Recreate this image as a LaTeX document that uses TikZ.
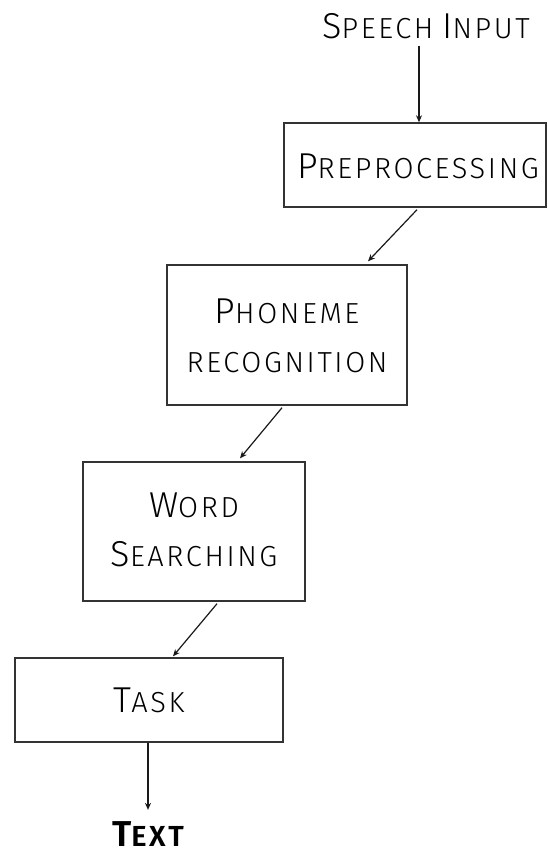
\documentclass[tikz,border=0pt]{standalone}
\usepackage{fontspec}
\setmainfont{Fira Sans Light}[BoldFont=Fira Sans SemiBold]
\usetikzlibrary{arrows.meta}
\newcommand{\fsc}[2]{{\fontsize{36}{40}\selectfont #1}{\fontsize{29}{40}\selectfont\addfontfeature{LetterSpace=9}#2}}
\begin{document}
\begin{tikzpicture}[x=1pt,y=-1pt,
  box/.style={draw=black!80,line width=1.4pt,inner sep=0pt,align=center},
  lbl/.style={inner sep=0pt,align=center},
  arr/.style={draw=black!90,line width=1.2pt,-{Stealth[length=7pt,width=6pt]}}]
\useasboundingbox (0,0) rectangle (547,848);
\node[lbl,anchor=base] (speech) at (426,39) {\fsc{S}{PEECH}\hspace{9pt}\fsc{I}{NPUT}};
\node[box,minimum width=262pt,minimum height=84pt] (pre) at (415,165) {};
\node[lbl,anchor=base] (pretext) at (418,178) {\fsc{P}{REPROCESSING}};
\node[box,minimum width=240pt,minimum height=140pt] (phon) at (287,335) {};
\node[lbl,anchor=base] (phont1) at (287,323) {\fsc{P}{HONEME}};
\node[lbl,anchor=base] (phont2) at (287,372) {\fsc{}{RECOGNITION}};
\node[box,minimum width=222pt,minimum height=139pt] (word) at (194,531.5) {};
\node[lbl,anchor=base] (wordt1) at (194,517) {\fsc{W}{ORD}};
\node[lbl,anchor=base] (wordt2) at (194,566) {\fsc{S}{EARCHING}};
\node[box,minimum width=268pt,minimum height=84pt] (task) at (149,700) {};
\node[lbl,anchor=base] (taskt) at (149,712) {\fsc{T}{ASK}};
\node[lbl,anchor=base] (text) at (148,846) {\bfseries\fsc{T}{EXT}};
\draw[arr] (speech.south -| pre.north) ++(4,6) -- ([xshift=4pt]pre.north);
\draw[arr] ([xshift=2pt,yshift=-2pt]pre.south) -- ([xshift=81pt,yshift=3pt]phon.north);
\draw[arr] ([xshift=-5pt,yshift=-2pt]phon.south) -- ([xshift=46pt,yshift=3pt]word.north);
\draw[arr] ([xshift=23pt,yshift=-2pt]word.south) -- ([xshift=24pt,yshift=1pt]task.north);
\draw[arr] ([xshift=-1pt]task.south) -- ([xshift=0pt,yshift=11pt]text.north);
\end{tikzpicture}
\end{document}
